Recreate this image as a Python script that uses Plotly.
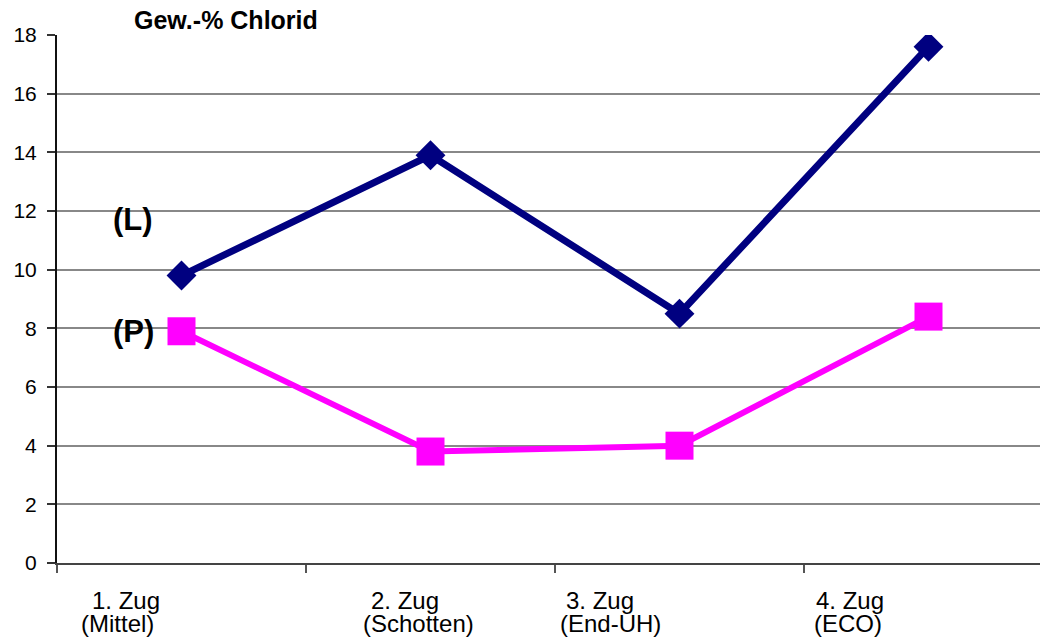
import plotly.graph_objects as go

categories = ["1. Zug (Mittel)", "2. Zug (Schotten)", "3. Zug (End-UH)", "4. Zug (ECO)"]
label_line1 = ["1. Zug", "2. Zug", "3. Zug", "4. Zug"]
label_line2 = ["(Mittel)", "(Schotten)", "(End-UH)", "(ECO)"]
series_L = [9.8, 13.9, 8.5, 17.6]
series_P = [7.9, 3.8, 4.0, 8.4]
y_ticks = [0, 2, 4, 6, 8, 10, 12, 14, 16, 18]

xi = list(range(len(categories)))

fig = go.Figure()
fig.add_trace(go.Scatter(
    x=xi, y=series_L, mode="lines+markers", name="(L)",
    line=dict(color="#000080", width=7),
    marker=dict(symbol="diamond", size=23, color="#000080"),
))
fig.add_trace(go.Scatter(
    x=xi, y=series_P, mode="lines+markers", name="(P)",
    line=dict(color="#FF00FF", width=6),
    marker=dict(symbol="square", size=28, color="#FF00FF"),
))

font_family = "Liberation Sans, Arial, sans-serif"

# category labels (two lines each, individually placed like the original)
line1_left = [90, 369, 564, 814]
line2_left = [79, 361, 558, 812]
annots = []
for i in range(len(categories)):
    annots.append(dict(x=(line1_left[i] - 57) / 983, y=0, xref="paper", yref="paper",
                       yshift=-37, text=label_line1[i], showarrow=False,
                       xanchor="left", yanchor="middle",
                       font=dict(size=24, color="black", family=font_family)))
    annots.append(dict(x=(line2_left[i] - 57) / 983, y=0, xref="paper", yref="paper",
                       yshift=-60, text=label_line2[i], showarrow=False,
                       xanchor="left", yanchor="middle",
                       font=dict(size=24, color="black", family=font_family)))
annots.append(dict(x=(226 - 57) / 983, y=1, xref="paper", yref="paper", yshift=15,
                   text="<b>Gew.-% Chlorid</b>", showarrow=False,
                   xanchor="center", yanchor="middle",
                   font=dict(size=25, color="black", family=font_family)))
annots.append(dict(x=(133 - 57) / 983, y=11.7, xref="paper", yref="y",
                   text="<b>(L)</b>", showarrow=False, xanchor="center", yanchor="middle",
                   font=dict(size=31, color="black", family=font_family)))
annots.append(dict(x=(133 - 57) / 983, y=7.9, xref="paper", yref="y",
                   text="<b>(P)</b>", showarrow=False, xanchor="center", yanchor="middle",
                   font=dict(size=31, color="black", family=font_family)))

fig.update_layout(
    width=1040, height=640,
    margin=dict(l=57, r=0, t=35, b=77),
    paper_bgcolor="white", plot_bgcolor="white",
    showlegend=False,
    annotations=annots,
    font=dict(family=font_family, size=20, color="black"),
)
fig.update_xaxes(
    range=[-0.5, -0.5 + 983 / 249],
    tickvals=[-0.5, 0.5, 1.5, 2.5],
    ticktext=["", "", "", ""],
    ticks="outside", ticklen=8, tickcolor="#555555", tickwidth=2,
    showgrid=False, zeroline=False,
    showline=True, linecolor="#444444", linewidth=2,
)
fig.update_yaxes(
    range=[0, 18], tickvals=y_ticks,
    ticks="outside", ticklen=8, tickcolor="#333333", tickwidth=2,
    showgrid=True, gridcolor="#888888", gridwidth=2,
    zeroline=False,
    showline=True, linecolor="#111111", linewidth=2,
    tickfont=dict(size=21, color="black", family=font_family),
    ticklabelstandoff=6,
)

fig.write_html("out.html")
